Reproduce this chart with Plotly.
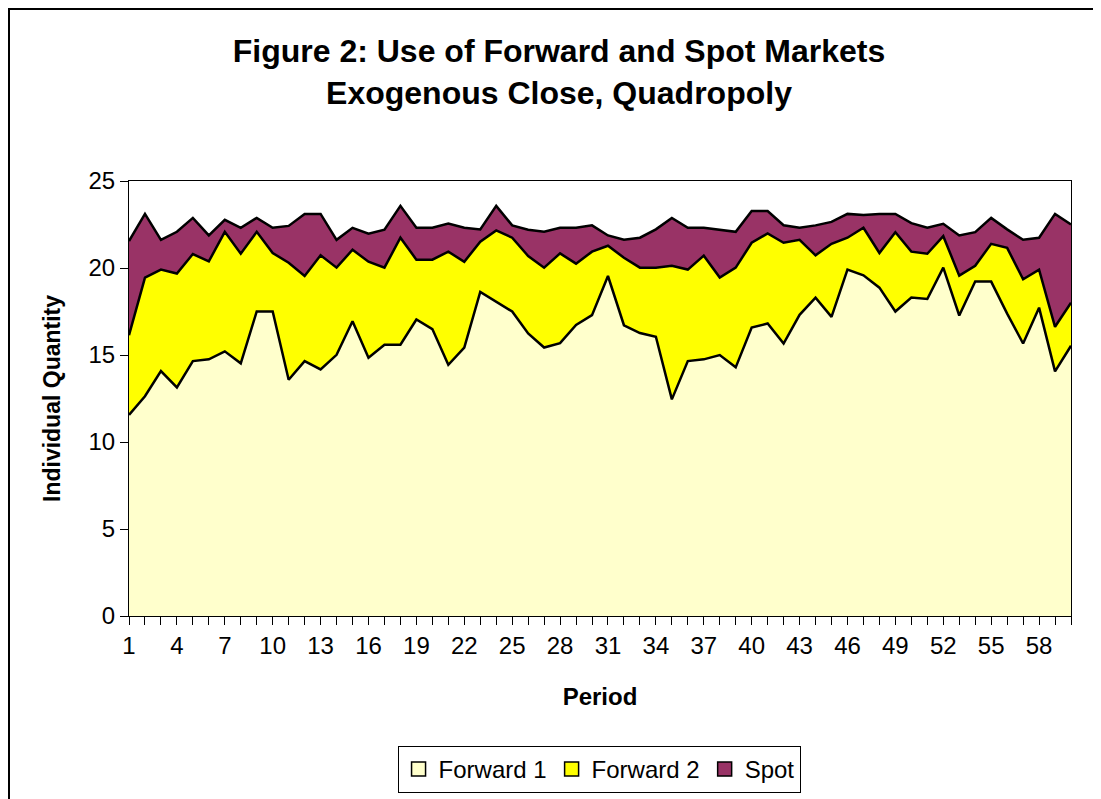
import plotly.graph_objects as go

periods = list(range(1, 61))

forward1 = [11.56, 12.63, 14.08, 13.14, 14.65, 14.75, 15.21, 14.52, 17.50, 17.50,
            13.58, 14.65, 14.17, 15.01, 16.94, 14.84, 15.59, 15.59, 17.04, 16.49,
            14.44, 15.43, 18.62, 18.07, 17.50, 16.24, 15.43, 15.68, 16.73, 17.29,
            19.54, 16.71, 16.26, 16.05, 12.45, 14.65, 14.75, 15.00, 14.29, 16.58,
            16.81, 15.66, 17.31, 18.30, 17.19, 19.91, 19.58, 18.87, 17.50, 18.30,
            18.22, 20.02, 17.27, 19.22, 19.22, 17.38, 15.66, 17.72, 14.06, 15.53]

forward2 = [4.58, 6.82, 5.83, 6.54, 6.15, 5.63, 6.87, 6.30, 4.58, 3.36,
            6.72, 4.89, 6.56, 5.01, 4.11, 5.52, 4.43, 6.15, 3.44, 3.99,
            6.50, 4.93, 2.89, 4.09, 4.24, 4.45, 4.59, 5.16, 3.52, 3.65,
            1.74, 3.88, 3.76, 3.97, 7.68, 5.26, 5.96, 4.45, 5.73, 4.87,
            5.18, 5.79, 4.31, 2.43, 4.20, 1.83, 2.73, 1.99, 4.56, 2.64,
            2.60, 1.81, 2.29, 0.91, 2.17, 3.78, 3.69, 2.19, 2.56, 2.48]

spot = [5.41, 3.66, 1.71, 2.40, 2.08, 1.49, 0.69, 1.49, 0.80, 1.45,
        2.12, 3.57, 2.38, 1.60, 1.26, 1.61, 2.18, 1.83, 1.83, 1.83,
        1.62, 1.95, 0.71, 1.41, 0.71, 1.51, 2.06, 1.47, 2.06, 1.51,
        0.59, 1.03, 1.72, 2.20, 2.75, 2.40, 1.60, 2.75, 2.06, 1.82,
        1.28, 1.01, 0.69, 1.72, 1.26, 1.37, 0.73, 2.25, 1.05, 1.64,
        1.49, 0.71, 2.31, 1.93, 1.49, 1.06, 2.27, 1.83, 6.49, 4.49]

series_names = ["Forward 1", "Forward 2", "Spot"]
series_colors = ["#FFFFCC", "#FFFF00", "#993366"]

FONT = "Liberation Sans, Arial, sans-serif"

# figure geometry (page has an 8px body margin)
W, H = 1093, 791
PL, PR, PT, PB = 121, 1063, 173, 608  # plot area in figure px
PW, PHh = PR - PL, PB - PT

fig = go.Figure()
for name, vals, col in zip(series_names, [forward1, forward2, spot], series_colors):
    fig.add_trace(go.Scatter(
        x=periods, y=vals, name=name, mode="lines",
        stackgroup="one", fillcolor=col,
        line=dict(color="black", width=2.5),
        showlegend=False,
    ))
# legend entries with square swatches
for name, col in zip(series_names, series_colors):
    fig.add_trace(go.Scatter(
        x=[None], y=[None], name=name, mode="markers",
        marker=dict(symbol="square", size=14, color=col, line=dict(color="black", width=1.5)),
        showlegend=True,
    ))

fig.update_layout(
    width=W, height=H,
    margin=dict(l=PL, r=W - PR, t=PT, b=H - PB, autoexpand=False),
    paper_bgcolor="white", plot_bgcolor="white",
    font=dict(family=FONT, color="black", size=24),
    title=dict(
        text="<b>Figure 2: Use of Forward and Spot Markets<br>Exogenous Close, Quadropoly</b>",
        x=(559 - 8) / W, xanchor="center", xref="container",
        y=1 - 54 / H, yanchor="top", yref="container",
        font=dict(family=FONT, size=32, color="black"),
    ),
    showlegend=True,
    legend=dict(
        orientation="h", x=0.499, xanchor="center", y=(PB - 738) / PHh, yanchor="top",
        xref="paper", yref="paper",
        bordercolor="black", borderwidth=1,
        font=dict(family=FONT, size=24, color="black"),
        traceorder="normal",
        itemwidth=30,
    ),
    xaxis=dict(
        range=[1, 60], tickmode="linear", tick0=1, dtick=3,
        ticks="outside", ticklen=8, tickcolor="black",
        showline=True, linecolor="black", linewidth=1, mirror=True,
        showgrid=False, zeroline=False, automargin=False,
        minor=dict(dtick=1, tick0=1, ticks="outside", ticklen=8, tickcolor="black", showgrid=False),
        title=dict(text="<b>Period</b>", font=dict(family=FONT, size=24), standoff=30),
        tickfont=dict(size=24),
    ),
    yaxis=dict(
        range=[0, 25], tickmode="linear", tick0=0, dtick=5,
        ticks="outside", ticklen=8, tickcolor="black",
        showline=True, linecolor="black", linewidth=1, mirror=True,
        showgrid=False, zeroline=False, automargin=False,
        title=dict(text="<b>Individual Quantity</b>", font=dict(family=FONT, size=23), standoff=21),
        tickfont=dict(size=24),
    ),
)

# chart-area border (Excel style)
fig.add_shape(type="rect", xref="paper", yref="paper",
              x0=(1 - PL) / PW, x1=1.3, y0=-0.8, y1=(PB - 1) / PHh,
              line=dict(color="black", width=2), fillcolor="rgba(0,0,0,0)", layer="below")

fig.write_html("out.html")
